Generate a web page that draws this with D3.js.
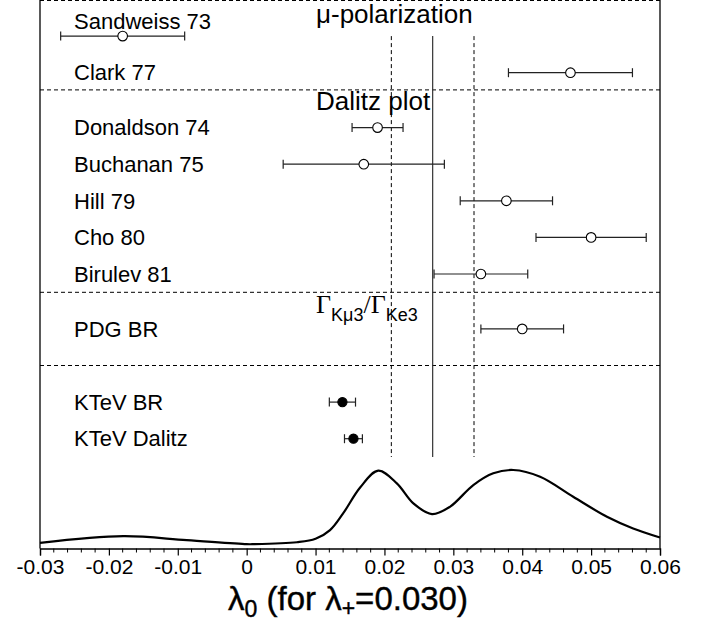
<!DOCTYPE html>
<html><head><meta charset="utf-8">
<script src="https://cdn.jsdelivr.net/npm/d3@7"></script>
<style>body{margin:0;background:#fff}svg{display:block}</style>
</head><body>
<svg id="c" width="715" height="624"></svg>
<script>
// ---- data ----
const labels   = ["Sandweiss 73","Clark 77","Donaldson 74","Buchanan 75","Hill 79","Cho 80","Birulev 81","PDG BR","KTeV BR","KTeV Dalitz"];
const rows     = [1, 2, 3.5, 4.5, 5.5, 6.5, 7.5, 9, 11, 12];
const values   = [-0.018, 0.047, 0.019, 0.017, 0.0377, 0.050, 0.034, 0.040, 0.0139, 0.0155];
const errors   = [0.009, 0.009, 0.0037, 0.0117, 0.0067, 0.008, 0.0068, 0.006, 0.0019, 0.0013];
const filled   = [false,false,false,false,false,false,false,false,true,true];
const sections = ["μ-polarization","Dalitz plot","Γ/Γ"];
const separators = [0, 2.47, 8, 10];
const avgValue = 0.027, avgError = 0.006;
const curveX = [-0.03,-0.0179,-0.0087,0.0,0.001,0.0073,0.010,0.0121,0.014,0.0165,0.0191,0.0218,0.0242,0.0269,0.0295,0.0329,0.0358,0.0387,0.0426,0.0474,0.0523,0.0561,0.06];
const curveY = [0.072,0.157,0.106,0.055,0.055,0.080,0.123,0.234,0.447,0.78,0.991,0.83,0.575,0.438,0.531,0.808,0.958,1.0,0.914,0.659,0.404,0.255,0.14];
const xTicks = [-0.03,-0.02,-0.01,0,0.01,0.02,0.03,0.04,0.05,0.06];
const xTickLabels = ["-0.03","-0.02","-0.01","0","0.01","0.02","0.03","0.04","0.05","0.06"];

// ---- layout ----
const svg = d3.select("#c");
const L = 40, R = 660, axisY = 548.5;
const x = d3.scaleLinear().domain([-0.03, 0.06]).range([L, R]);
const y = d3.scaleLinear().domain([0, 12]).range([-0.5, 438.7]);
const yc = d3.scaleLinear().domain([0, 1]).range([axisY, 470]);
const sans = "Liberation Sans, Arial, Helvetica, sans-serif";
const serif = "Liberation Serif, Times New Roman, serif";

// frame
svg.append("line").attr("x1",L).attr("x2",L).attr("y1",0).attr("y2",axisY).attr("stroke","#000").attr("stroke-width",1.3);
svg.append("line").attr("x1",R).attr("x2",R).attr("y1",0).attr("y2",axisY).attr("stroke","#000").attr("stroke-width",1.3);

// separators
svg.append("g").selectAll("line").data(separators).join("line")
  .attr("x1",L).attr("x2",R)
  .attr("y1",d=>Math.max(0.5,y(d))).attr("y2",d=>Math.max(0.5,y(d)))
  .attr("stroke","#000").attr("stroke-width",1).attr("stroke-dasharray","4,3");

// average band lines
const vTop = y(1), vBot = y(12.5);
svg.append("line").attr("x1",x(avgValue)).attr("x2",x(avgValue)).attr("y1",vTop).attr("y2",vBot)
  .attr("stroke","#333").attr("stroke-width",1.2);
[avgValue-avgError, avgValue+avgError].forEach(v=>{
  svg.append("line").attr("x1",x(v)).attr("x2",x(v)).attr("y1",vTop).attr("y2",vBot)
    .attr("stroke","#000").attr("stroke-width",1).attr("stroke-dasharray","4,3");
});

// labels
svg.append("g").selectAll("text").data(labels).join("text")
  .attr("x",74)
  .attr("y",(d,i)=> i===0 ? y(rows[i]) - 6.7 : y(rows[i]) + 7.7)
  .attr("font-family",sans).attr("font-size",22).attr("fill","#000")
  .text(d=>d);

// section titles
svg.append("text").attr("x",316).attr("y",y(0)+23).attr("font-family",sans).attr("font-size",26).text(sections[0]);
svg.append("text").attr("x",316).attr("y",y(2.47)+20.5).attr("font-family",sans).attr("font-size",26).text(sections[1]);
const g3 = svg.append("text").attr("x",316).attr("y",y(8)+20.5).attr("font-size",26);
g3.append("tspan").attr("font-family",serif).text("Γ");
g3.append("tspan").attr("font-family",sans).attr("font-size",18).attr("dy",8).text("Kμ3");
g3.append("tspan").attr("font-family",serif).attr("dy",-8).text("/Γ");
g3.append("tspan").attr("font-family",sans).attr("font-size",18).attr("dy",8).text("Ke3");

// error bars
const pts = values.map((v,i)=>({v, e:errors[i], r:rows[i], f:filled[i]}));
const eb = svg.append("g").attr("stroke","#222").attr("stroke-width",1.2);
pts.forEach(p=>{
  const yy = y(p.r);
  eb.append("line").attr("x1",x(p.v-p.e)).attr("x2",x(p.v+p.e)).attr("y1",yy).attr("y2",yy);
  [p.v-p.e, p.v+p.e].forEach(v=>{
    eb.append("line").attr("x1",x(v)).attr("x2",x(v)).attr("y1",yy-4.5).attr("y2",yy+4.5);
  });
});
svg.append("g").selectAll("circle").data(pts).join("circle")
  .attr("cx",d=>x(d.v)).attr("cy",d=>y(d.r)).attr("r",d=>d.f?4.6:4.8)
  .attr("fill",d=>d.f?"#000":"#fff").attr("stroke","#000").attr("stroke-width",1.1);

// likelihood curve
const line = d3.line().x(d=>x(d[0])).y(d=>yc(d[1])).curve(d3.curveCatmullRom.alpha(0.5));
svg.append("path").datum(curveX.map((v,i)=>[v,curveY[i]])).attr("d",line)
  .attr("fill","none").attr("stroke","#000").attr("stroke-width",2.2);

// x axis
const axis = d3.axisBottom(x).tickValues(xTicks).tickSize(7).tickPadding(1)
  .tickFormat((d,i)=> xTickLabels[i]);
const ag = svg.append("g").attr("transform",`translate(0,${axisY})`).call(axis);
ag.select(".domain").attr("stroke","#000").attr("stroke-width",1.3);
ag.selectAll(".tick line").attr("stroke","#000").attr("stroke-width",1.2);
ag.selectAll(".tick text").attr("font-family",sans).attr("font-size",21).attr("fill","#000").attr("dy","0.85em");
const minor = d3.range(-0.03, 0.0601, 0.002).filter(v=>!xTicks.some(t=>Math.abs(t-v)<1e-6));
svg.append("g").selectAll("line").data(minor).join("line")
  .attr("x1",d=>x(d)).attr("x2",d=>x(d)).attr("y1",axisY).attr("y2",axisY+4)
  .attr("stroke","#000").attr("stroke-width",1);

// axis title
const t = svg.append("text").attr("x",348).attr("y",610).attr("text-anchor","middle")
  .attr("font-family",sans).attr("font-size",33).attr("fill","#000").attr("stroke","#000").attr("stroke-width",0.4);
t.append("tspan").text("λ");
t.append("tspan").attr("font-size",23).attr("dy",7).text("0");
t.append("tspan").attr("dy",-7).text(" (for λ");
t.append("tspan").attr("font-size",23).attr("dy",6).text("+");
t.append("tspan").attr("dy",-6).text("=0.030)");
</script>
</body></html>
